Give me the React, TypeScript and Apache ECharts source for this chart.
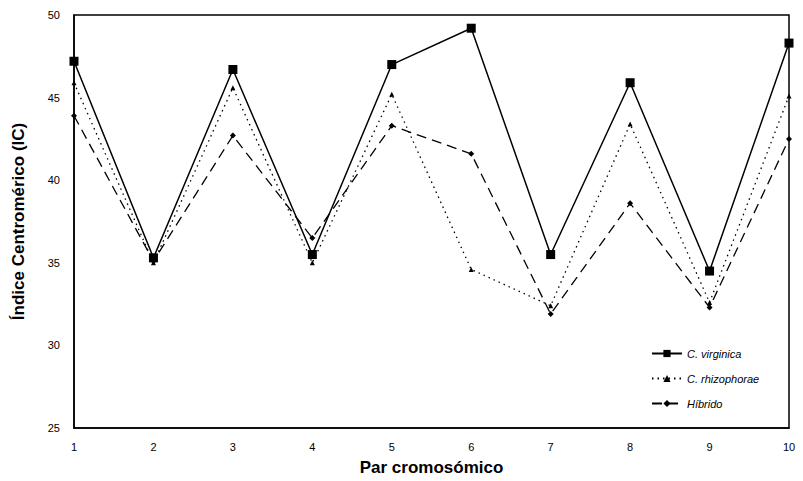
import React, { useEffect, useRef } from "react";
import * as echarts from "echarts";

const categories = ["1", "2", "3", "4", "5", "6", "7", "8", "9", "10"];
const virginica = [47.2, 35.3, 46.7, 35.5, 47.0, 49.2, 35.5, 45.9, 34.5, 48.3];
const rhizophorae = [45.9, 35.0, 45.6, 35.0, 45.2, 34.6, 32.4, 43.4, 32.6, 45.1];
const hibrido = [43.9, 35.1, 42.7, 36.5, 43.3, 41.6, 31.9, 38.6, 32.3, 42.5];
const seriesNames = ["C. virginica", "C. rhizophorae", "Híbrido"];

const FONT = "'Liberation Sans Narrow', 'Arial Narrow', 'Liberation Sans', Arial, sans-serif";
const BOLD_FONT = "'Liberation Sans', Arial, sans-serif";

export default function App() {
  const ref = useRef<HTMLDivElement>(null);
  useEffect(() => {
    if (!ref.current) return;
    const chart = echarts.init(ref.current, null, { renderer: "svg" });
    chart.setOption({
      animation: false,
      backgroundColor: "#fff",
      grid: {
        left: 74,
        right: 14,
        top: 15,
        bottom: 44,
        show: true,
        borderColor: "#000",
        borderWidth: 1.5,
        backgroundColor: "transparent",
      },
      legend: {
        orient: "vertical",
        left: 646,
        top: 343,
        itemWidth: 30,
        itemHeight: 9,
        itemGap: 14,
        data: seriesNames,
        textStyle: { fontFamily: FONT, fontStyle: "italic", fontSize: 11, color: "#000" },
      },
      xAxis: {
        type: "category",
        data: categories,
        boundaryGap: false,
        axisLine: { lineStyle: { color: "#000", width: 1.5 } },
        axisTick: { show: false },
        axisLabel: { color: "#000", fontFamily: FONT, fontSize: 11, margin: 13 },
        splitLine: { show: false },
        name: "Par cromosómico",
        nameLocation: "middle",
        nameGap: 31,
        nameTextStyle: { fontFamily: BOLD_FONT, fontWeight: "bold", fontSize: 17, color: "#000" },
      },
      yAxis: {
        type: "value",
        min: 25,
        max: 50,
        interval: 5,
        axisLine: { show: true, lineStyle: { color: "#000", width: 1.5 } },
        axisTick: { show: false },
        axisLabel: { color: "#000", fontFamily: FONT, fontSize: 11, margin: 14 },
        splitLine: { show: false },
        name: "Índice Centromérico (IC)",
        nameLocation: "middle",
        nameGap: 47,
        nameTextStyle: { fontFamily: BOLD_FONT, fontWeight: "bold", fontSize: 17, color: "#000" },
      },
      series: [
        {
          name: seriesNames[0],
          type: "line",
          data: virginica,
          symbol: "rect",
          symbolSize: 9,
          lineStyle: { color: "#000", width: 1.5, type: "solid" },
          itemStyle: { color: "#000" },
        },
        {
          name: seriesNames[1],
          type: "line",
          data: rhizophorae,
          symbol: "triangle",
          symbolSize: 5,
          lineStyle: { color: "#000", width: 1.3, type: [1.5, 4] },
          itemStyle: { color: "#000" },
        },
        {
          name: seriesNames[2],
          type: "line",
          data: hibrido,
          symbol: "diamond",
          symbolSize: 6,
          lineStyle: { color: "#000", width: 1.3, type: [10, 6] },
          itemStyle: { color: "#000" },
        },
      ],
    });
    return () => chart.dispose();
  }, []);
  return (
    <div
      ref={ref}
      style={{ position: "fixed", left: 0, top: 0, width: 803, height: 481, background: "#fff" }}
    />
  );
}
